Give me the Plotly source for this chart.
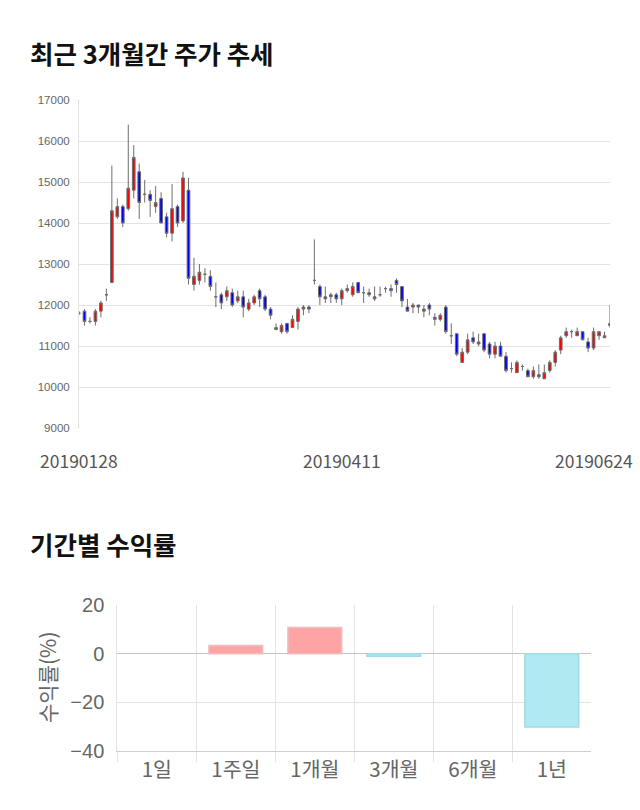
import plotly.graph_objects as go

# ---------------- data ----------------
date_labels = ["20190128", "20190411", "20190624"]
label_idx = [0, 48, 97]

opens = [11800, 11850, 11600, 11600, 11850, 12250, 12550, 14150, 14400, 14350,
         14800, 15250, 14700, 14700, 14400, 14600, 14150, 13750, 14400, 14050,
         14800, 12500, 12600, 12750, 12700, 12200, 12250, 12200, 12300, 12100,
         12200, 11900, 12050, 12350, 12200, 11900, 11400, 11350, 11550, 11450,
         11600, 11900, 11950, 12600, 12450, 12200, 12200, 12250, 12150, 12350,
         12250, 12550, 12300, 12300, 12150, 12250, 12400, 12400, 12600, 12450,
         11950, 11950, 12000, 11850, 12000, 11700, 11650, 11950, 11250, 11300,
         10600, 10850, 11200, 11050, 11300, 11050, 10800, 11000, 10750, 10450,
         10350, 10500, 10400, 10250, 10300, 10200, 10400, 10600, 10900, 11250,
         11350, 11250, 11350, 11100, 10950, 11250, 11200, 11500]
highs = [11850, 11900, 11700, 11900, 12100, 12400, 15400, 14600, 14450, 16400,
         15900, 15450, 15050, 14800, 14900, 14750, 14250, 14950, 14450, 15250,
         15100, 13150, 13000, 12900, 12850, 12550, 12300, 12450, 12400, 12350,
         12350, 12150, 12250, 12400, 12250, 11950, 11550, 11550, 11550, 11750,
         11950, 12000, 12000, 13600, 12500, 12450, 12300, 12300, 12400, 12500,
         12550, 12550, 12450, 12400, 12450, 12450, 12450, 12500, 12650, 12450,
         12150, 12050, 12000, 12000, 12050, 11800, 11800, 12000, 11550, 11300,
         10950, 11300, 11350, 11300, 11300, 11100, 11100, 11100, 10850, 10600,
         10650, 10550, 10450, 10500, 10550, 10550, 10650, 10900, 11250, 11450,
         11400, 11450, 11350, 11200, 11450, 11350, 11350, 12000]
lows = [11750, 11500, 11550, 11500, 11700, 12100, 12550, 14100, 13900, 14300,
        14600, 14100, 14500, 14150, 14250, 14000, 13650, 13550, 13900, 14000,
        12500, 12350, 12500, 12550, 12350, 11950, 11900, 12100, 11950, 12050,
        11700, 11850, 12000, 11950, 11850, 11650, 11400, 11300, 11300, 11450,
        11400, 11750, 11800, 12500, 12000, 12050, 12050, 12050, 12000, 12300,
        12200, 12300, 12050, 12200, 12100, 12200, 12300, 12200, 12300, 11950,
        11850, 11800, 11800, 11700, 11750, 11500, 11600, 11300, 11050, 10750,
        10600, 10800, 11050, 11000, 10850, 10700, 10700, 10750, 10350, 10350,
        10350, 10400, 10250, 10200, 10200, 10200, 10350, 10500, 10800, 11200,
        11200, 11250, 11150, 10850, 10900, 11150, 11200, 11450]
closes = [11800, 11600, 11600, 11850, 12050, 12250, 14300, 14400, 14000, 14850,
          15600, 14500, 14700, 14550, 14500, 14000, 13750, 14350, 14000, 15100,
          12650, 12700, 12800, 12750, 12450, 12200, 12050, 12350, 12000, 12200,
          11950, 12050, 12200, 12150, 11900, 11750, 11450, 11500, 11350, 11650,
          11900, 11950, 11900, 12600, 12200, 12150, 12250, 12150, 12350, 12400,
          12450, 12300, 12300, 12250, 12200, 12250, 12400, 12350, 12500, 12100,
          11850, 12000, 11950, 11900, 11900, 11650, 11750, 11350, 11250, 10800,
          10850, 11150, 11100, 11100, 10900, 10800, 11000, 10750, 10400, 10450,
          10600, 10500, 10250, 10400, 10250, 10350, 10600, 10850, 11200, 11350,
          11350, 11350, 11150, 10950, 11350, 11350, 11250, 11550]

price_ticks = [9000, 10000, 11000, 12000, 13000, 14000, 15000, 16000, 17000]

periods = ["1일", "1주일", "1개월", "3개월", "6개월", "1년"]
returns = [0.0, 3.4, 10.8, -1.1, 0.0, -30.1]
return_ticks = [-40, -20, 0, 20]

# ---------------- figure ----------------
W, H = 640, 810
def px(x):
    return x / W
def py(y):
    return 1 - y / H

x_idx = list(range(len(opens)))

fig = go.Figure()

fig.add_trace(go.Candlestick(
    x=x_idx, open=opens, high=highs, low=lows, close=closes,
    increasing=dict(fillcolor="#FF0000", line=dict(color="#6e6e6e", width=1)),
    decreasing=dict(fillcolor="#0000FF", line=dict(color="#6e6e6e", width=1)),
    whiskerwidth=0, xaxis="x", yaxis="y", showlegend=False, hoverinfo="skip",
))

bar_fill = ["rgba(255,99,99,0.58)" if v >= 0 else "rgb(176,233,242)" for v in returns]
bar_line = ["rgb(236,190,190)" if v >= 0 else "rgb(160,218,228)" for v in returns]
bar_lw = [1.5 if v != 0 else 0 for v in returns]
fig.add_trace(go.Bar(
    x=periods, y=returns,
    marker=dict(color=bar_fill, line=dict(color=bar_line, width=bar_lw)),
    xaxis="x2", yaxis="y2", showlegend=False, hoverinfo="skip",
))

grid = "#e3e3e3"
font_num = "Liberation Sans, Noto Sans CJK KR, sans-serif"
font_kr = "Noto Sans CJK KR, Liberation Sans, sans-serif"

fig.update_layout(
    width=W, height=H, autosize=False,
    margin=dict(l=0, r=0, t=0, b=0),
    paper_bgcolor="white", plot_bgcolor="white",
    bargap=0.32,
    xaxis=dict(
        domain=[px(79), px(610)], range=[0, len(opens) - 1],
        showgrid=False, zeroline=False, showticklabels=False,
        rangeslider=dict(visible=False), showline=False, fixedrange=True,
        automargin=False,
    ),
    yaxis=dict(
        domain=[py(428), py(100)], range=[9000, 17000],
        tickvals=price_ticks, tickformat="d",
        showgrid=True, gridcolor=grid, gridwidth=1,
        zeroline=False, showline=True, linecolor=grid,
        ticks="outside", ticklen=6, tickcolor="rgba(0,0,0,0)",
        tickfont=dict(family=font_num, size=11.5, color="#666"),
        anchor="x", fixedrange=True, automargin=False,
    ),
    xaxis2=dict(
        domain=[px(117.3), px(591.3)], anchor="y2",
        showgrid=True, gridcolor=grid, tickson="boundaries",
        ticks="outside", ticklen=10, tickcolor=grid,
        showline=True, linecolor="#cfcfcf",
        tickfont=dict(family=font_kr, size=20.5, color="#666"),
        fixedrange=True, automargin=False,
    ),
    yaxis2=dict(
        domain=[py(751), py(605)], range=[-40, 20], anchor="x2",
        tickvals=return_ticks, showgrid=True, gridcolor=grid,
        zeroline=True, zerolinecolor="#c4c4c4", zerolinewidth=1,
        showline=True, linecolor=grid,
        ticks="outside", ticklen=8, tickcolor="rgba(0,0,0,0)",
        tickfont=dict(family=font_num, size=20, color="#666"),
        fixedrange=True, automargin=False,
    ),
)

annotations = [
    dict(text="<b>최근 3개월간 주가 추세</b>", x=px(28), y=py(52), xref="paper", yref="paper",
         xanchor="left", yanchor="middle", showarrow=False,
         font=dict(family=font_kr, size=25.5, color="#111")),
    dict(text="<b>기간별 수익률</b>", x=px(28), y=py(543), xref="paper", yref="paper",
         xanchor="left", yanchor="middle", showarrow=False,
         font=dict(family=font_kr, size=25.5, color="#111")),
    dict(text="수익률(%)", x=px(47), y=py(677), xref="paper", yref="paper",
         xanchor="center", yanchor="middle", showarrow=False, textangle=-90,
         font=dict(family=font_kr, size=21, color="#666")),
]
shifts = [0, 0, -16]
for i, (lab, idx) in enumerate(zip(date_labels, label_idx)):
    annotations.append(dict(
        text=lab, x=idx, y=py(460), xref="x", yref="paper",
        xanchor="center", yanchor="middle", showarrow=False, xshift=shifts[i],
        font=dict(family=font_kr, size=17.5, color="#555")))
fig.update_layout(annotations=annotations)

fig.write_html("out.html", config={"displayModeBar": False})
